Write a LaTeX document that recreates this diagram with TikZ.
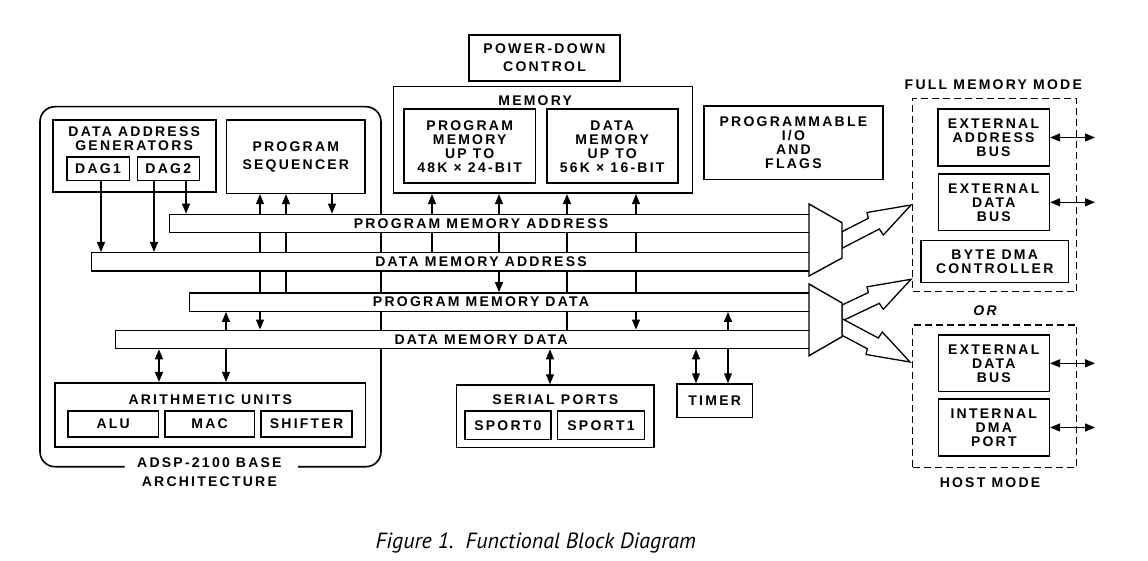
\documentclass[tikz,border=0pt]{standalone}
\usepackage{fontspec}
\setmainfont{Liberation Sans}[LetterSpace=16]
\newfontfamily\capfont{PT Sans}
\usetikzlibrary{arrows.meta,backgrounds}

\begin{document}
\begin{tikzpicture}[x=1pt,y=-1pt,
    font=\fontsize{14}{14}\selectfont\bfseries,
    >={Triangle[length=10pt,width=8pt]},
    box/.style={draw,line width=1.6pt,inner sep=0pt,align=center},
    bus/.style={draw,fill=white,line width=1.4pt,anchor=west,minimum height=18.4pt,inner sep=0pt},
    modebox/.style={draw,line width=1.5pt,dash pattern=on 7pt off 4pt,minimum width=164pt},
    lbl/.style={inner sep=0pt,align=center},
    tap/.style={line width=1.3pt}]
    \useasboundingbox (0,0) rectangle (1148,561);

    \node[box,minimum width=163pt,minimum height=71.7pt] (dags) at (134.2,155.9) {};
    \node[lbl] (dags-title) at (134.2,138.3) {DATA ADDRESS\\GENERATORS};
    \node[box,minimum width=62.6pt,minimum height=23.4pt] (dag1) at (98,169) {DAG1};
    \node[box,minimum width=62pt,minimum height=23.4pt] (dag2) at (168.3,169) {DAG2};
    \node[box,minimum width=138.3pt,minimum height=73.3pt] (seq) at (295.8,156.7) {PROGRAM\\[4pt]SEQUENCER};

    \node[box,minimum width=151pt,minimum height=45.7pt] (pwr) at (544.5,57.9) {POWER-DOWN\\[4pt]CONTROL};
    \node[box,minimum width=299pt,minimum height=106.6pt] (mem) at (542.8,140) {};
    \node[lbl] (mem-title) at (535.2,100.7) {MEMORY};
    \node[box,minimum width=131.3pt,minimum height=74pt] (pm) at (469.7,146.3) {PROGRAM\\MEMORY\\UP TO\\48K × 24-BIT};
    \node[box,minimum width=131pt,minimum height=74pt] (dm) at (612.2,146.3) {DATA\\MEMORY\\UP TO\\56K × 16-BIT};
    \node[box,minimum width=178.7pt,minimum height=73.3pt] (pio) at (793.4,142.7) {PROGRAMMABLE\\I/O\\AND\\FLAGS};

    \node[lbl] (full-title) at (993.3,85) {FULL MEMORY MODE};
    \node[modebox,minimum height=193.4pt] (full) at (994.7,195) {};
    \node[box,minimum width=111.6pt,minimum height=57pt] (eab) at (993.5,137.5) {EXTERNAL\\ADDRESS\\BUS};
    \node[box,minimum width=111pt,minimum height=56.7pt] (edb1) at (993.8,202.3) {EXTERNAL\\DATA\\BUS};
    \node[box,minimum width=147.3pt,minimum height=42pt] (bdma) at (994.7,261.7) {BYTE DMA\\CONTROLLER};
    \node[lbl,font=\fontsize{14}{14}\selectfont\bfseries\itshape] (or) at (985,310.7) {OR};
    \node[modebox,minimum height=142.3pt] (host) at (994.7,396.2) {};
    \node[box,minimum width=111pt,minimum height=56.7pt] (edb2) at (993.8,363.3) {EXTERNAL\\DATA\\BUS};
    \node[box,minimum width=111pt,minimum height=57pt] (idma) at (993.8,427.5) {INTERNAL\\DMA\\PORT};
    \node[lbl] (host-title) at (990,482.7) {HOST MODE};

    \node[box,minimum width=310.2pt,minimum height=64pt] (au) at (210.3,414.7) {};
    \node[lbl] (au-title) at (210.3,400) {ARITHMETIC UNITS};
    \node[box,minimum width=90.7pt,minimum height=26pt] (alu) at (113.2,423.7) {ALU};
    \node[box,minimum width=89.6pt,minimum height=26pt] (mac) at (209.6,423.7) {MAC};
    \node[box,minimum width=90.7pt,minimum height=26pt] (shf) at (306.5,423.7) {SHIFTER};
    \node[lbl] (base-lbl) at (209.4,463) {ADSP-2100 BASE};
    \node[lbl] (arch-lbl) at (209.4,482) {ARCHITECTURE};

    \node[box,minimum width=197.2pt,minimum height=62.3pt] (sp) at (555.2,416.2) {};
    \node[lbl] (sp-title) at (555.2,399.3) {SERIAL PORTS};
    \node[box,minimum width=86.2pt,minimum height=28.3pt] (sp0) at (507.9,425.2) {SPORT0};
    \node[box,minimum width=87.2pt,minimum height=28.3pt] (sp1) at (601,425.2) {SPORT1};
    \node[box,minimum width=75.3pt,minimum height=33.3pt] (timer) at (714.7,400.7) {TIMER};

    \node[bus,minimum width=640pt] (pma) at (169,223.5) {};
    \node[bus,minimum width=718.3pt] (dma) at (90.7,261.9) {};
    \node[bus,minimum width=620pt] (pmd) at (189,302) {};
    \node[bus,minimum width=694pt] (dmd) at (115,339.4) {};
    \node[lbl] (pma-lbl) at (481,223.5) {PROGRAM MEMORY ADDRESS};
    \node[lbl] (dma-lbl) at (481,261.9) {DATA MEMORY ADDRESS};
    \node[lbl] (pmd-lbl) at (481,302) {PROGRAM MEMORY DATA};
    \node[lbl] (dmd-lbl) at (481,339.4) {DATA MEMORY DATA};

    \begin{scope}[on background layer]
        \draw[line width=1.6pt,rounded corners=15pt] (124.5,466.7) -- (40,466.7) -- (40,106.7) -- (381,106.7) -- (381,466.7) -- (298,466.7);
        \foreach \x/\a/\b/\tip in {101/dag1.south/dma.north/->, 154/dag2.south/dma.north/->,
                186/dag2.south/pma.north/->, 260/dmd.north/seq.south/<->, 286/pmd.north/seq.south/->,
                332/seq.south/pma.north/->, 226/dmd.north/pmd.south/->, 432/dma.north/mem.south/->,
                499/pmd.north/mem.south/<->, 567/dmd.north/mem.south/->, 636/dmd.north/mem.south/<->,
                728/dmd.north/pmd.south/->, 159/dmd.south/au.north/<->, 226/dmd.south/au.north/->,
                550/dmd.south/sp.north/<->, 696/dmd.south/timer.north/<->, 728/dmd.south/timer.north/->}
            \draw[tap,\tip] (\a -| \x,0) -- (\b -| \x,0);
        \draw[tap,fill=white] (842,231.7) -- (868.3,218.3) -- (867,212.5) -- (911,205) -- (883.3,235) -- (879.3,229) -- (842,248.3) -- cycle;
        \draw[tap,fill=white] (842,305) -- (868.3,292.6) -- (867,286.8) -- (911,279.3) -- (883.3,309.3) -- (879.3,303.3) -- (842,321) -- cycle;
        \draw[tap,fill=white] (842,335.3) -- (867.3,348.7) -- (866,354.5) -- (910,362) -- (882.3,332) -- (878.3,338) -- (842,318.7) -- cycle;
    \end{scope}

    \draw[line width=1.4pt,fill=white] (809,204) -- (842,222.7) -- (842,258) -- (809,276) -- cycle;
    \draw[line width=1.4pt,fill=white] (809,284) -- (842,303) -- (842,336.7) -- (809,355.7) -- cycle;

    \coordinate (xout) at (1095,0);
    \foreach \n in {eab,edb1,edb2,idma}
        \draw[tap,<->] (\n.east) -- (\n.east -| xout);

    \node (caption) at (535.8,543) {\capfont\mdseries\itshape\fontsize{22}{22}\selectfont Figure 1.\ \ Functional Block Diagram};
\end{tikzpicture}
\end{document}
